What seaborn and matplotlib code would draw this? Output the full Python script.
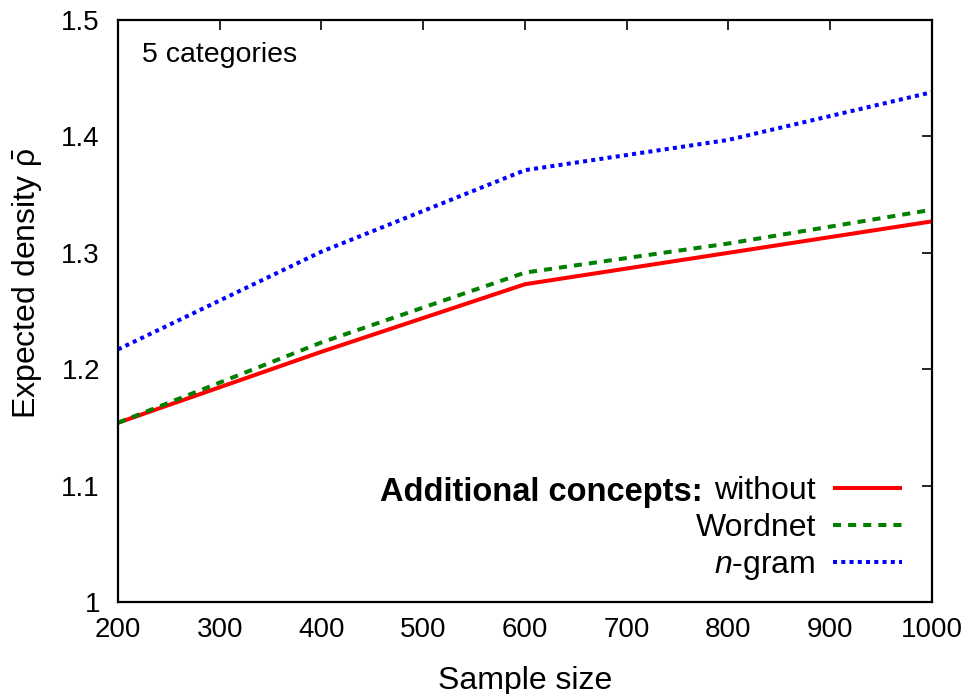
import matplotlib
matplotlib.use("Agg")
import matplotlib.pyplot as plt
import seaborn as sns
import pandas as pd

sample_sizes = [200, 400, 600, 800, 1000]
without = [1.154, 1.215, 1.273, 1.300, 1.327]
wordnet = [1.154, 1.223, 1.283, 1.308, 1.337]
ngram = [1.217, 1.301, 1.371, 1.397, 1.438]
series_labels = ["without", "Wordnet", r"$\it{n}$-gram"]
x_ticks = [200, 300, 400, 500, 600, 700, 800, 900, 1000]
y_ticks = [1.0, 1.1, 1.2, 1.3, 1.4, 1.5]
y_tick_labels = ["1", "1.1", "1.2", "1.3", "1.4", "1.5"]

sns.set_theme(style="white")
plt.rcParams["font.family"] = ["Liberation Sans", "DejaVu Sans"]
plt.rcParams["mathtext.fontset"] = "custom"
plt.rcParams["mathtext.rm"] = "Liberation Sans"
plt.rcParams["mathtext.it"] = "Liberation Sans:italic"
plt.rcParams["mathtext.bf"] = "Liberation Sans:bold"
plt.rcParams["text.color"] = "black"
plt.rcParams["axes.labelcolor"] = "black"

fig = plt.figure(figsize=(9.7, 6.94), dpi=100)
ax = fig.add_axes([118 / 970, 1 - 602 / 694, 814 / 970, 582 / 694])

df = pd.DataFrame({"x": sample_sizes, "without": without, "wordnet": wordnet, "ngram": ngram})

styles = [
    ("without", "#ff0000", "-"),
    ("wordnet", "#008000", (0, (2.0, 1.75))),
    ("ngram", "#0000ff", (0, (1.0, 1.05))),
]
for (col, color, ls), lab in zip(styles, series_labels):
    sns.lineplot(data=df, x="x", y=col, color=color, linestyle=ls, linewidth=2.9,
                 label=lab, ax=ax)
for ln in ax.lines:
    ln.set_dash_capstyle("butt")
    ln.set_solid_capstyle("butt")

ax.set_xlim(200, 1000)
ax.set_ylim(1.0, 1.5)
ax.set_xticks(x_ticks)
ax.set_yticks(y_ticks)
ax.set_yticklabels(y_tick_labels)
ax.tick_params(axis="both", which="both", direction="in", length=7, width=1.2,
               top=True, right=True, labelsize=20, colors="black", labelcolor="black")
ax.tick_params(axis="x", pad=11)
ax.tick_params(axis="y", pad=13)
for sp in ax.spines.values():
    sp.set_visible(True)
    sp.set_color("black")
    sp.set_linewidth(1.6)

ax.set_xlabel("Sample size", fontsize=23, labelpad=16)
ax.set_ylabel(r"Expected density $\bar{\mathrm{\rho}}$", fontsize=23)
ax.yaxis.set_label_coords(-0.09, 0.548)

ax.text(24 / 814, (602 - 55) / 582, "5 categories", transform=ax.transAxes, fontsize=20.5,
        ha="left", va="center")

leg = ax.legend(loc="lower right", bbox_to_anchor=((902 - 118) / 814, (602 - 582) / 582),
                frameon=False, markerfirst=False, fontsize=23, handlelength=2.15,
                handletextpad=0.55, borderpad=0, borderaxespad=0, labelspacing=0.22)
ax.text((703 - 118) / 814, (602 - 492) / 582, "Additional concepts:", transform=ax.transAxes,
        fontsize=23.5, fontweight="bold", ha="right", va="center")

fig.savefig("out.png", dpi=100)
